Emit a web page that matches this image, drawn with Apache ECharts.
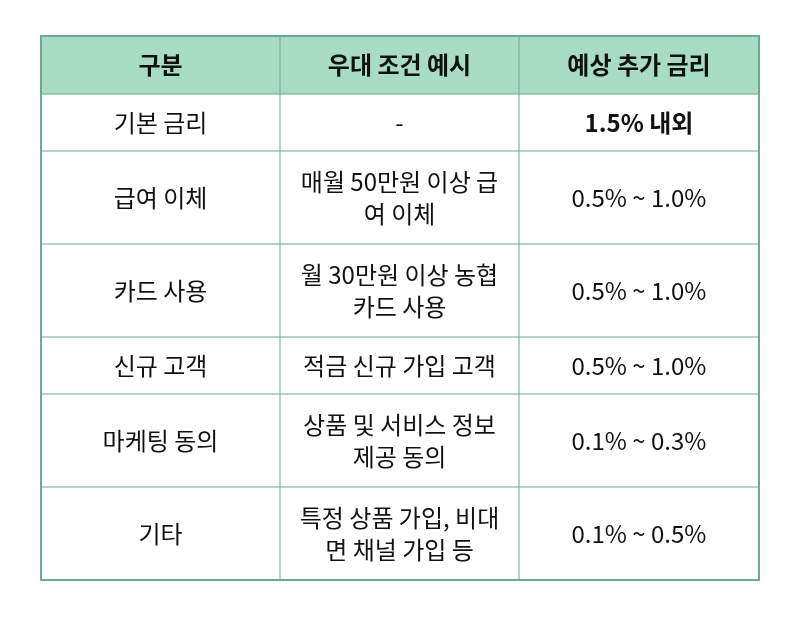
<!DOCTYPE html>
<html><head><meta charset="utf-8">
<script src="https://cdn.jsdelivr.net/npm/echarts@6/dist/echarts.min.js"></script>
<style>html,body{margin:0;padding:0;background:#fff}#c{width:800px;height:617px}</style>
</head><body><div id="c"></div>
<script>
const headers = ['구분', '우대 조건 예시', '예상 추가 금리'];
const categories = ['기본 금리', '급여 이체', '카드 사용', '신규 고객', '마케팅 동의', '기타'];
const conditions = ['-', '매월 50만원 이상 급\n여 이체', '월 30만원 이상 농협\n카드 사용', '적금 신규 가입 고객', '상품 및 서비스 정보\n제공 동의', '특정 상품 가입, 비대\n면 채널 가입 등'];
const rates = ['1.5% 내외', '0.5% ~ 1.0%', '0.5% ~ 1.0%', '0.5% ~ 1.0%', '0.1% ~ 0.3%', '0.1% ~ 0.5%'];
const boldRows = [0];

const X = [41, 280, 519, 759];
const rowH = [58, 57, 93, 93, 57, 93, 93];
const top0 = 36;
const border = '#6aaa90', headBg = '#a8dcc5', font = '"Noto Sans CJK KR", "Noto Sans", sans-serif';
const els = [];
let ys = [top0];
rowH.forEach(h => ys.push(ys[ys.length - 1] + h));
els.push({type:'rect', shape:{x:X[0], y:ys[0], width:X[3]-X[0], height:rowH[0]}, style:{fill:headBg}});
const rows = [headers].concat(categories.map((c, i) => [c, conditions[i], rates[i]]));
rows.forEach((r, ri) => {
  r.forEach((t, ci) => {
    const bold = ri === 0 || (ci === 2 && boldRows.includes(ri - 1));
    els.push({type:'text', x:(X[ci]+X[ci+1])/2, y:(ys[ri]+ys[ri+1])/2, style:{text:t, fill:'#111', font:(bold?'bold ':'')+'24px '+font, align:'center', verticalAlign:'middle', lineHeight:32}});
  });
});
for (let i = 1; i < ys.length - 1; i++) els.push({type:'line', shape:{x1:X[0], y1:ys[i], x2:X[3], y2:ys[i]}, style:{stroke:border, lineWidth:1}});
for (let i = 1; i < 3; i++) els.push({type:'line', shape:{x1:X[i], y1:ys[0], x2:X[i], y2:ys[ys.length-1]}, style:{stroke:border, lineWidth:1}});
els.push({type:'rect', shape:{x:X[0], y:ys[0], width:X[3]-X[0], height:ys[ys.length-1]-ys[0]}, style:{fill:'none', stroke:border, lineWidth:2}});
const chart = echarts.init(document.getElementById('c'));
chart.setOption({animation:false, graphic:{elements:els}});
</script></body></html>
